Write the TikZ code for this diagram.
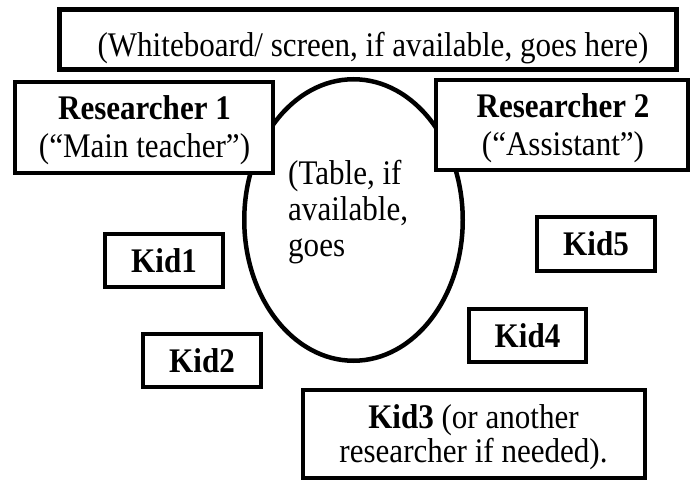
\documentclass[tikz,border=0pt]{standalone}
\usepackage{fontspec}
\setmainfont{Liberation Serif}[FakeStretch=0.9]
\usetikzlibrary{shapes.geometric}
\tikzset{
  txt/.style={font=\fontsize{34.5}{38}\selectfont, inner sep=0pt},
  seatbox/.style={draw, line width=4pt, fill=white, inner sep=0pt, font=\fontsize{34.5}{38}\selectfont},
  kidbox/.style={seatbox, minimum width=118pt, minimum height=53pt, font=\fontsize{34.5}{38}\selectfont\bfseries},
}
\begin{document}
\begin{tikzpicture}[x=1pt,y=-1pt]
\useasboundingbox (0,0) rectangle (694,481);
% table
\node[draw, ellipse, line width=4.5pt, minimum width=218.5pt, minimum height=281.5pt, inner sep=0pt] (tbl) at (353.5,220) {};
\node[txt, anchor=base west, font=\fontsize{34.5}{36}\selectfont] (tbltxt) at (288,185)
  {\begin{tabular}[t]{@{}l@{}}(Table, if\\available,\\goes\end{tabular}};
% whiteboard
\node[seatbox, line width=5pt, minimum width=617pt, minimum height=60pt] (wb) at (368,39.5) {};
\node[txt, anchor=base] (wbtxt) at (373,56.5) {(Whiteboard/ screen, if available, goes here)};
% researchers
\node[seatbox, minimum width=258pt, minimum height=91pt] (r1) at (144,127.5) {};
\node[txt, anchor=base] (r1txt) at (144.5,120)
  {\begin{tabular}[t]{@{}c@{}}\textbf{Researcher 1}\\(“Main teacher”)\end{tabular}};
\node[seatbox, minimum width=252pt, minimum height=90pt] (r2) at (562,125) {};
\node[txt, anchor=base] (r2txt) at (563,118)
  {\begin{tabular}[t]{@{}c@{}}\textbf{Researcher 2}\\(“Assistant”)\end{tabular}};
% kids
\node[kidbox] (k1) at (164,260.5) {Kid1};
\node[kidbox] (k2) at (202,360.5) {Kid2};
\node[kidbox, minimum height=54pt] (k5) at (596,244) {Kid5};
\node[kidbox, minimum width=117pt] (k4) at (527.5,335.5) {Kid4};
\node[seatbox, minimum width=342pt, minimum height=88pt] (k3) at (474,434) {};
\node[txt, anchor=base, font=\fontsize{34.5}{34}\selectfont] (k3txt) at (473.5,428)
  {\begin{tabular}[t]{@{}c@{}}\textbf{Kid3} (or another\\researcher if needed).\end{tabular}};
\end{tikzpicture}
\end{document}
